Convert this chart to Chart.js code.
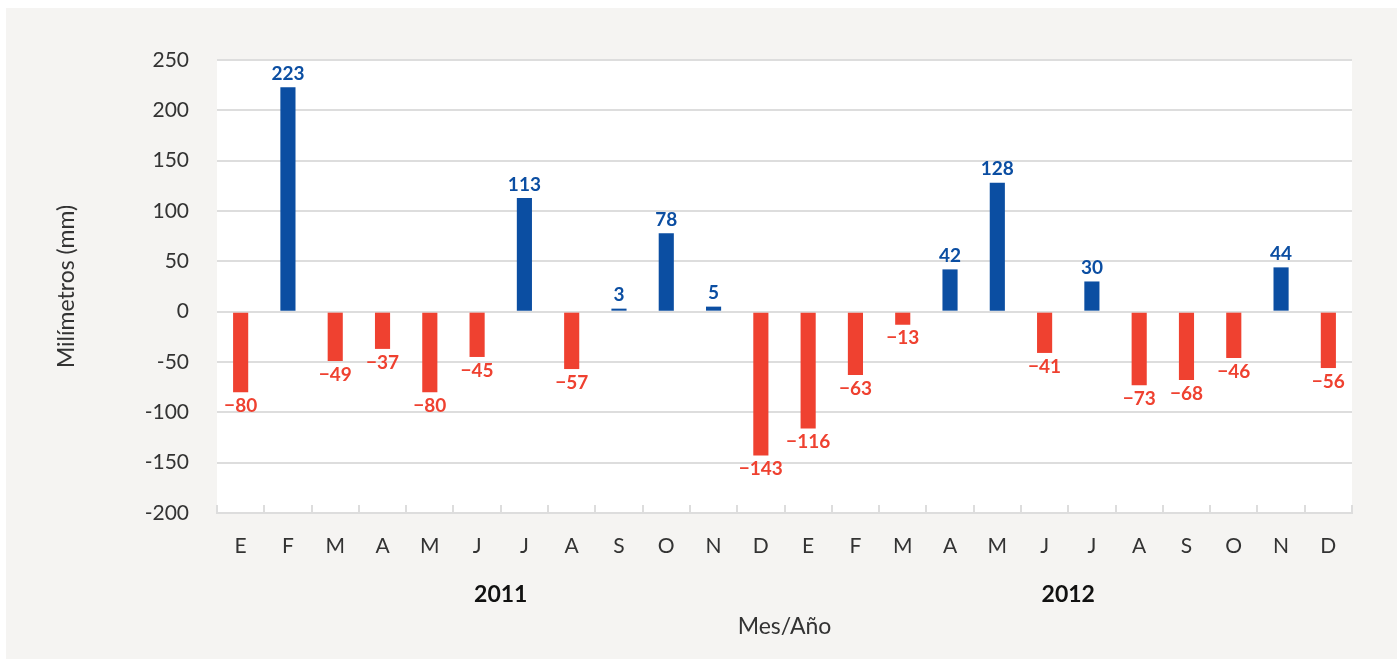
<!DOCTYPE html>
<html>
<head>
<meta charset="utf-8">
<script src="https://cdn.jsdelivr.net/npm/chart.js@4"></script>
<style>
  html, body { margin: 0; padding: 0; background: #fff; }
  #wrap { width: 1397px; height: 659px; }
</style>
</head>
<body>
<div id="wrap"><canvas id="grafico"></canvas></div>
<script>
// Datos
const meses = ['E','F','M','A','M','J','J','A','S','O','N','D','E','F','M','A','M','J','J','A','S','O','N','D'];
const anomalia = [-80, 223, -49, -37, -80, -45, 113, -57, 3, 78, 5, -143, -116, -63, -13, 42, 128, -41, 30, -73, -68, -46, 44, -56];
const anios = ['2011', '2012'];
const ticksY = [250, 200, 150, 100, 50, 0, -50, -100, -150, -200];

const AZUL = '#0b4ea2';
const ROJO = '#ef4130';
const FUENTE = 'Lato, "Noto Sans", sans-serif';

// Fondo gris y area blanca
const fondo = {
    id: 'fondo',
    beforeDraw(chart) {
        const ctx = chart.ctx;
        const a = chart.chartArea;
        ctx.save();
        ctx.fillStyle = '#ffffff';
        ctx.fillRect(0, 0, chart.width, chart.height);
        ctx.fillStyle = '#f5f4f2';
        ctx.fillRect(6, 8, chart.width - 6, chart.height - 8);
        ctx.fillStyle = '#ffffff';
        ctx.fillRect(a.left, a.top, a.right - a.left, a.bottom - a.top);
        ctx.restore();
    }
};

// Etiquetas de valor, marcas del eje y años
const etiquetas = {
    id: 'etiquetas',
    afterDatasetsDraw(chart) {
        const ctx = chart.ctx;
        const meta = chart.getDatasetMeta(0);
        ctx.save();
        ctx.font = 'bold 19px ' + FUENTE;
        ctx.textAlign = 'center';
        meta.data.forEach((bar, i) => {
            const v = anomalia[i];
            if (v >= 0) {
                ctx.fillStyle = AZUL;
                ctx.textBaseline = 'bottom';
                ctx.fillText(String(v), bar.x, bar.y - 4);
            } else {
                ctx.fillStyle = ROJO;
                ctx.textBaseline = 'top';
                ctx.fillText('\u2212' + Math.abs(v), bar.x, bar.y + 4);
            }
        });

        // marcas del eje x hacia arriba
        const x = chart.scales.x;
        const a = chart.chartArea;
        const paso = (a.right - a.left) / meses.length;
        ctx.strokeStyle = '#dddddd';
        ctx.lineWidth = 2;
        for (let i = 0; i <= meses.length; i++) {
            const px = Math.round(a.left + i * paso);
            ctx.beginPath();
            ctx.moveTo(px, a.bottom);
            ctx.lineTo(px, a.bottom - 8);
            ctx.stroke();
        }

        // años
        ctx.fillStyle = '#111111';
        ctx.font = 'bold 23px ' + FUENTE;
        ctx.textBaseline = 'middle';
        anios.forEach((an, k) => {
            const cx = x.getPixelForValue(k * 12 + 5.5);
            ctx.fillText(an, cx, 595);
        });
        ctx.restore();
    }
};

const ctx = document.getElementById('grafico').getContext('2d');
new Chart(ctx, {
    type: 'bar',
    data: {
        labels: meses,
        datasets: [{
            label: 'Anomalía',
            data: anomalia,
            backgroundColor: anomalia.map(v => v >= 0 ? AZUL : ROJO),
            barPercentage: 0.32,
            categoryPercentage: 1
        }]
    },
    options: {
        responsive: true,
        maintainAspectRatio: false,
        animation: false,
        layout: { padding: { left: 53, top: 60, right: 45, bottom: 10 } },
        plugins: {
            legend: { display: false },
            tooltip: { enabled: false }
        },
        scales: {
            x: {
                grid: { display: false, drawTicks: false },
                border: { display: true, color: '#dddddd', width: 2 },
                ticks: {
                    color: '#333333',
                    font: { family: FUENTE, size: 21 },
                    padding: 21,
                    maxRotation: 0,
                    autoSkip: false
                },
                title: {
                    display: true,
                    text: 'Mes/Año',
                    color: '#333333',
                    font: { family: FUENTE, size: 23 },
                    padding: { top: 0, bottom: 9 }
                },
                afterFit(scale) { scale.height = 136; }
            },
            y: {
                min: -200,
                max: 250,
                afterBuildTicks(scale) {
                    scale.ticks = ticksY.map(v => ({ value: v }));
                },
                grid: { color: '#dddddd', lineWidth: 2, drawTicks: false },
                border: { display: false },
                ticks: {
                    color: '#333333',
                    font: { family: FUENTE, size: 21 },
                    padding: 28
                },
                title: {
                    display: true,
                    text: 'Milímetros (mm)',
                    color: '#333333',
                    font: { family: FUENTE, size: 23 },
                    padding: { top: 0, bottom: 0 }
                },
                afterFit(scale) { scale.width = 164; }
            }
        }
    },
    plugins: [fondo, etiquetas]
});
</script>
</body>
</html>
